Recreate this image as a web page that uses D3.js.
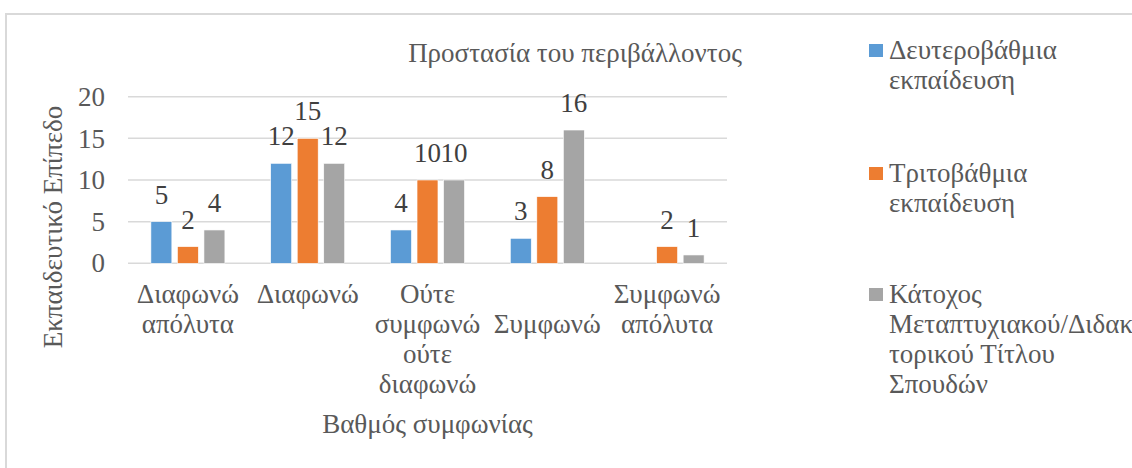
<!DOCTYPE html>
<html>
<head>
<meta charset="utf-8">
<script src="https://cdn.jsdelivr.net/npm/d3@7"></script>
</head>
<body style="margin:0">
<svg id="chart" width="1132" height="468"></svg>
<script>
// Chart data
const categories = ["Διαφωνώ απόλυτα", "Διαφωνώ", "Ούτε συμφωνώ ούτε διαφωνώ", "Συμφωνώ", "Συμφωνώ απόλυτα"];
// wrapped tick labels as Excel draws them ("Συμφωνώ" sits on the second row)
const categoryLines = [["Διαφωνώ", "απόλυτα"], ["Διαφωνώ"], ["Ούτε", "συμφωνώ", "ούτε", "διαφωνώ"], ["", "Συμφωνώ"], ["Συμφωνώ", "απόλυτα"]];
const seriesNames = ["Δευτεροβάθμια εκπαίδευση", "Τριτοβάθμια εκπαίδευση", "Κάτοχος Μεταπτυχιακού/Διδακτορικού Τίτλου Σπουδών"];
const legendLines = [["Δευτεροβάθμια", "εκπαίδευση"], ["Τριτοβάθμια", "εκπαίδευση"], ["Κάτοχος", "Μεταπτυχιακού/Διδακ", "τορικού Τίτλου", "Σπουδών"]];
const secondary = [5, 12, 4, 3, null];
const tertiary = [2, 15, 10, 8, 2];
const postgrad = [4, 12, 10, 16, 1];
const yTicks = [0, 5, 10, 15, 20];
const colors = ["#5B9BD5", "#ED7D31", "#A5A5A5"];

const seriesValues = [secondary, tertiary, postgrad];
const FONT = '"Liberation Serif"';
const FS = "27px";

const svg = d3.select("#chart");

// helper so every label gets the same font settings
function label(sel, fill) {
  return sel.style("font-family", FONT).style("font-size", FS).style("fill", fill || "#595959");
}

// outer chart border
svg.append("rect")
  .attr("x", 6).attr("y", 14)
  .attr("width", 1200).attr("height", 500)
  .attr("fill", "none")
  .attr("stroke", "#d9d9d9")
  .attr("stroke-width", 2);

const plot = { left: 128, right: 727, top: 96.7, bottom: 263.3 };

const x0 = d3.scaleBand().domain(categories).range([plot.left, plot.right]);
const x1 = d3.scaleBand().domain(seriesNames).range([0, 74]).paddingInner(0.21);
const groupOffset = (x0.bandwidth() - 74) / 2;
const y = d3.scaleLinear().domain([0, 20]).range([plot.bottom, plot.top]);

// gridlines
svg.append("g")
  .selectAll("line")
  .data(yTicks)
  .enter().append("line")
  .attr("x1", plot.left).attr("x2", plot.right)
  .attr("y1", d => y(d)).attr("y2", d => y(d))
  .attr("stroke", "#d9d9d9")
  .attr("stroke-width", 1.5);

// y tick labels
label(svg.append("g")
  .selectAll("text")
  .data(yTicks)
  .enter().append("text")
  .attr("x", 105)
  .attr("y", d => y(d))
  .attr("dy", "0.34em")
  .attr("text-anchor", "end"))
  .text(d => d);

// bars
const barData = [];
categories.forEach((c, i) => {
  seriesNames.forEach((s, j) => {
    const v = seriesValues[j][i];
    if (v != null) barData.push({ cat: c, series: s, value: v, idx: j });
  });
});

svg.append("g")
  .selectAll("rect")
  .data(barData)
  .enter().append("rect")
  .attr("x", d => x0(d.cat) + groupOffset + x1(d.series))
  .attr("y", d => y(d.value))
  .attr("width", x1.bandwidth())
  .attr("height", d => y(0) - y(d.value))
  .attr("fill", d => colors[d.idx])
  .attr("stroke", "#fff")
  .attr("stroke-width", 0.6);

// value labels
label(svg.append("g")
  .selectAll("text")
  .data(barData)
  .enter().append("text")
  .attr("x", d => x0(d.cat) + groupOffset + x1(d.series) + x1.bandwidth() / 2)
  .attr("y", d => y(d.value) - 18)
  .attr("text-anchor", "middle"), "#404040")
  .text(d => d.value);

// category labels
categories.forEach((c, i) => {
  const cx = x0(c) + x0.bandwidth() / 2;
  const t = label(svg.append("text")
    .attr("x", cx)
    .attr("y", 303)
    .attr("text-anchor", "middle"));
  categoryLines[i].forEach((line, k) => {
    t.append("tspan")
      .attr("x", cx)
      .attr("y", 303 + k * 30)
      .text(line);
  });
});

// axis titles
label(svg.append("text")
  .attr("x", (plot.left + plot.right) / 2)
  .attr("y", 433)
  .attr("text-anchor", "middle"))
  .text("Βαθμός συμφωνίας");

label(svg.append("text")
  .attr("transform", "translate(62,227) rotate(-90)")
  .attr("text-anchor", "middle"))
  .text("Εκπαιδευτικό Επίπεδο");

// chart title
label(svg.append("text")
  .attr("x", 575)
  .attr("y", 62)
  .attr("text-anchor", "middle"))
  .text("Προστασία του περιβάλλοντος");

// legend
const legendY = [59, 182, 303];
seriesNames.forEach((s, j) => {
  svg.append("rect")
    .attr("x", 869).attr("y", legendY[j] - 15)
    .attr("width", 14).attr("height", 13)
    .attr("fill", colors[j]);
  const t = label(svg.append("text")
    .attr("x", 889).attr("y", legendY[j]));
  legendLines[j].forEach((line, k) => {
    t.append("tspan").attr("x", 889).attr("y", legendY[j] + k * 30).text(line);
  });
});
</script>
</body>
</html>
